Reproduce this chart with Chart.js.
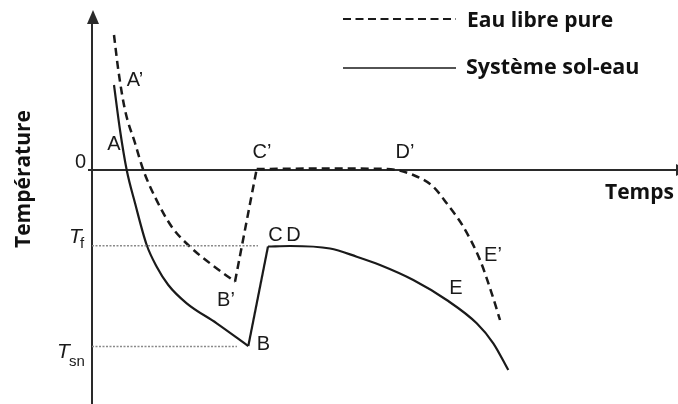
<!DOCTYPE html>
<html lang="fr">
<head>
<meta charset="UTF-8">
<title>Courbes de refroidissement</title>
<script src="https://cdn.jsdelivr.net/npm/chart.js"></script>
<style>
  body { margin: 0; background: #fff; }
</style>
</head>
<body>
<canvas id="courbe" width="678" height="404"></canvas>
<script>
// temps (unités arbitraires) et température (unités arbitraires, 0 = point de congélation)
const tempsSolEau = [2.2, 2.8, 3.47, 4.3, 5.47, 6.47, 7.63, 9.47, 12.47, 15.63, 17.6, 19.8, 23.8, 26.47, 28.8, 32.13, 35.47, 38.47, 40.13, 41.63];
const tempSolEau  = [8.5, 4.0, 0, -3.3, -7.5, -9.67, -11.5, -13.33, -15.33, -17.6, -7.65, -7.6, -7.85, -8.67, -9.5, -11.0, -13.0, -15.33, -17.33, -20.0];
const cassuresSolEau = [9, 10]; // B, C

const tempsEauLibre = [2.2, 2.63, 3.3, 4.3, 5.13, 6.3, 7.97, 9.8, 11.8, 14.3, 16.47, 24.0, 29.5, 32.13, 34.13, 35.47, 37.13, 38.8, 39.97, 40.8];
const tempEauLibre  = [13.5, 10.0, 6.0, 2.7, 0, -2.7, -5.67, -7.67, -9.33, -11.17, 0.1, 0.15, 0.1, -0.5, -1.67, -3.33, -5.67, -9.0, -12.33, -15.0];
const cassuresEauLibre = [9, 10]; // B', C'

const Tf = -7.57;
const Tsn = -17.65;

const repereNoms  = ['A’', 'A', 'B’', 'B', 'C’', 'C', 'D', 'D’', 'E’', 'E'];
const repereTemps = [4.3, 2.2, 13.4, 17.15, 17.0, 18.35, 20.15, 31.3, 40.1, 36.4];
const repereTemp  = [9.0, 2.55, -13.0, -17.4, 1.75, -6.5, -6.5, 1.75, -8.5, -11.85];

const encre = '#1a1a1a';

function pts(xs, ys, a, b) {
    const out = [];
    for (let i = a; i <= b; i++) out.push({x: xs[i], y: ys[i]});
    return out;
}

// découpe en 3 morceaux: refroidissement, saut, palier + fin
function morceaux(xs, ys, cassures, dash, ep) {
    const n = xs.length - 1;
    const base = {showLine: true, borderColor: encre, borderWidth: ep, pointRadius: 0, borderDash: dash, fill: false};
    return [
        Object.assign({}, base, {data: pts(xs, ys, 0, cassures[0]), cubicInterpolationMode: 'monotone'}),
        Object.assign({}, base, {data: pts(xs, ys, cassures[0], cassures[1]), tension: 0}),
        Object.assign({}, base, {data: pts(xs, ys, cassures[1], n), cubicInterpolationMode: 'monotone'})
    ];
}

const pointille = {showLine: true, borderColor: '#8a8a8a', borderWidth: 1.5, borderDash: [2, 1.5], pointRadius: 0, tension: 0};

const datasets = [
    Object.assign({}, pointille, {data: [{x: 0, y: Tf}, {x: 16.6, y: Tf}]}),
    Object.assign({}, pointille, {data: [{x: 0, y: Tsn}, {x: 14.5, y: Tsn}]}),
    ...morceaux(tempsEauLibre, tempEauLibre, cassuresEauLibre, [8, 5], 2.5),
    ...morceaux(tempsSolEau, tempSolEau, cassuresSolEau, [], 2.2)
];

const decor = {
    id: 'decor',
    beforeDatasetsDraw(chart) {
        const ctx = chart.ctx;
        const xs = chart.scales.x, ys = chart.scales.y;
        const x0 = xs.getPixelForValue(0), y0 = ys.getPixelForValue(0);
        ctx.save();
        ctx.strokeStyle = '#2a2a2a';
        ctx.fillStyle = '#2a2a2a';
        ctx.lineWidth = 2;
        // axe des températures
        ctx.beginPath();
        ctx.moveTo(x0, 404);
        ctx.lineTo(x0, 20);
        ctx.stroke();
        ctx.beginPath();
        ctx.moveTo(x0 + 1, 10);
        ctx.lineTo(x0 - 5, 24);
        ctx.lineTo(x0 + 7, 24);
        ctx.closePath();
        ctx.fill();
        // axe du temps
        ctx.beginPath();
        ctx.moveTo(x0 - 4, y0);
        ctx.lineTo(676, y0);
        ctx.stroke();
        ctx.beginPath();
        ctx.moveTo(688, y0);
        ctx.lineTo(676, y0 - 6);
        ctx.lineTo(676, y0 + 6);
        ctx.closePath();
        ctx.fill();
        ctx.restore();
    },
    afterDatasetsDraw(chart) {
        const ctx = chart.ctx;
        const xs = chart.scales.x, ys = chart.scales.y;
        ctx.save();
        ctx.fillStyle = encre;
        ctx.textAlign = 'center';
        ctx.textBaseline = 'middle';
        ctx.font = '20px "Liberation Sans", Arial, sans-serif';
        repereNoms.forEach((n, i) => {
            ctx.fillText(n, xs.getPixelForValue(repereTemps[i]), ys.getPixelForValue(repereTemp[i]));
        });
        ctx.fillText('0', 80.5, ys.getPixelForValue(0) - 8);

        // Tf et Tsn
        ctx.textAlign = 'left';
        ctx.textBaseline = 'alphabetic';
        const yf = ys.getPixelForValue(Tf), ysn = ys.getPixelForValue(Tsn);
        ctx.font = 'italic 21px "Liberation Sans", Arial, sans-serif';
        ctx.fillText('T', 69, yf - 3);
        ctx.fillText('T', 57, ysn + 11);
        ctx.font = '15px "Liberation Sans", Arial, sans-serif';
        ctx.fillText('f', 80, yf + 2);
        ctx.fillText('sn', 69, ysn + 19);

        // titres d'axes
        ctx.font = 'bold 21px "Open Sans", sans-serif';
        ctx.fillStyle = '#111';
        ctx.fillText('Temps', 605, 199);
        ctx.save();
        ctx.translate(30, 179);
        ctx.rotate(-Math.PI / 2);
        ctx.textAlign = 'center';
        ctx.fillText('Température', 0, 0);
        ctx.restore();

        // légende
        ctx.strokeStyle = encre;
        ctx.lineWidth = 2;
        ctx.setLineDash([8, 4.5]);
        ctx.beginPath();
        ctx.moveTo(343, 19);
        ctx.lineTo(456, 19);
        ctx.stroke();
        ctx.setLineDash([]);
        ctx.lineWidth = 1.5;
        ctx.beginPath();
        ctx.moveTo(343, 68);
        ctx.lineTo(456, 68);
        ctx.stroke();
        ctx.textBaseline = 'alphabetic';
        ctx.fillText('Eau libre pure', 467, 27);
        ctx.font = 'bold 21.5px "Open Sans", sans-serif';
        ctx.fillText('Système sol-eau', 466, 74);
        ctx.restore();
    }
};

new Chart(document.getElementById('courbe'), {
    type: 'scatter',
    data: {datasets: datasets},
    options: {
        responsive: false,
        animation: false,
        layout: {padding: {left: 92, top: 12, right: 1, bottom: 0}},
        scales: {
            x: {type: 'linear', min: 0, max: 58.5, display: false},
            y: {type: 'linear', min: -23.4, max: 15.8, display: false}
        },
        plugins: {
            legend: {display: false},
            tooltip: {enabled: false}
        }
    },
    plugins: [decor]
});
</script>
</body>
</html>
